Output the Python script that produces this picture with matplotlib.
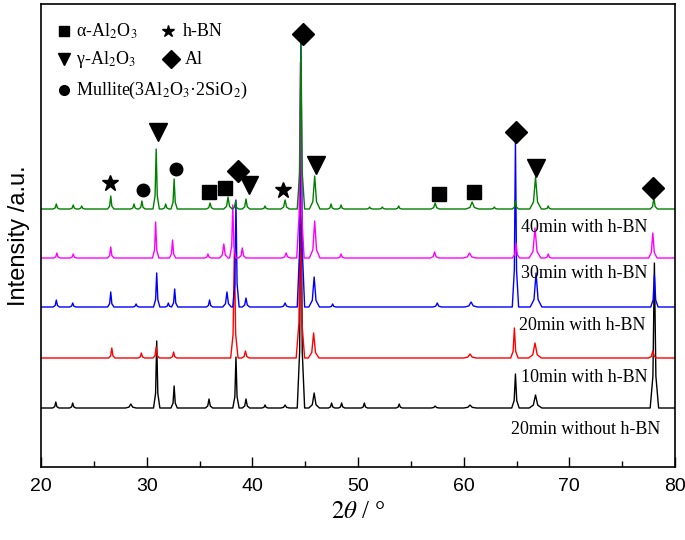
import matplotlib
matplotlib.use("Agg")
import matplotlib.pyplot as plt

# ---------------- data (2theta in degrees, intensity in a.u.) ----------------
series_names = ["20min without h-BN", "10min with h-BN", "20min with h-BN",
                "30min with h-BN", "40min with h-BN"]
series_colors = ["black", "red", "blue", "magenta", "green"]
series_offsets = [59, 109, 160, 209, 258]

# peaks: (position, height, half-base width)
black_peaks = [(21.4, 6, .3), (23.0, 5, .3), (28.5, 4, .5), (30.95, 67, .3), (32.6, 22, .3),
               (35.9, 9, .35), (38.45, 51, .3), (39.4, 9, .35), (41.2, 3, .3), (43.1, 3, .4),
               (44.6, 258, .35), (45.85, 15, .5), (47.5, 5, .3), (48.45, 5, .3), (50.6, 5, .3),
               (53.9, 4, .3), (57.3, 2, .4), (60.6, 3, .6), (64.9, 34, .35), (66.8, 13, .6),
               (78.05, 145, .4)]
red_peaks = [(26.7, 10, .3), (29.5, 5, .3), (30.9, 11, .3), (32.55, 6, .3), (38.3, 108, .35),
             (39.35, 7, .35), (44.55, 160, .4), (45.8, 25, .5), (60.6, 4, .6), (64.8, 30, .35),
             (66.75, 15, .6), (77.9, 7, .4)]
blue_peaks = [(21.45, 7, .3), (23.0, 4, .3), (26.6, 15, .3), (29.0, 3, .3), (30.95, 34, .3),
              (32.05, 4, .3), (32.65, 18, .3), (35.95, 7, .3), (37.6, 15, .4), (38.45, 107, .3),
              (39.4, 9, .35), (43.1, 4, .4), (44.6, 265, .35), (45.85, 30, .5), (47.6, 3, .3),
              (57.5, 4, .4), (60.7, 5, .6), (64.9, 167, .3), (66.85, 34, .55), (78.05, 32, .35)]
magenta_peaks = [(21.5, 5, .3), (23.05, 4, .3), (26.6, 11, .3), (30.85, 36, .3), (32.45, 18, .3),
                 (35.8, 4, .3), (37.3, 14, .4), (38.15, 53, .3), (39.05, 10, .35), (43.2, 5, .4),
                 (44.55, 196, .35), (45.9, 37, .5), (48.4, 4, .3), (57.25, 6, .4), (60.55, 5, .6),
                 (64.95, 15, .35), (66.75, 30, .55), (68.0, 4, .3), (77.9, 25, .4)]
green_peaks = [(21.45, 5, .3), (23.05, 4, .3), (23.85, 3, .3), (26.6, 13, .3), (28.8, 5, .3),
               (29.55, 8, .3), (30.9, 60, .3), (31.8, 5, .3), (32.6, 30, .3), (36.0, 6, .35),
               (37.7, 12, .4), (38.4, 7, .3), (39.4, 10, .35), (41.2, 3, .3), (43.1, 9, .4),
               (44.6, 166, .35), (45.9, 33, .5), (47.45, 5, .3), (48.4, 4, .3), (51.1, 2, .3),
               (52.3, 2, .3), (53.85, 3, .3), (57.3, 6, .4), (60.8, 7, .6), (62.9, 2, .3),
               (64.9, 8, .3), (66.8, 32, .55), (68.0, 3, .3), (78.0, 11, .35)]
all_peaks = [black_peaks, red_peaks, blue_peaks, magenta_peaks, green_peaks]

# label positions (2theta, intensity)
label_x = [64.45, 65.4, 65.2, 65.4, 65.4]
label_y = [38, 89, 141, 193, 240]

# phase markers above the 40 min pattern
mark_x = [26.56, 29.62, 31.11, 32.78, 35.94, 37.45, 38.62, 39.73, 42.94, 45.98,
          44.77, 57.62, 60.97, 66.81, 64.92, 77.92]
mark_y = [284, 277, 335, 298, 275, 279, 296, 282, 277, 302,
          433, 273, 275, 299, 335, 279]
mark_kind = ["*", "o", "v", "o", "s", "s", "D", "v", "*", "v",
             "D", "s", "s", "v", "D", "D"]

# ---------------- figure ----------------
plt.rcParams["mathtext.fontset"] = "stix"
fig = plt.figure(figsize=(6.85, 5.4), dpi=100)
ax = fig.add_axes([41 / 685, 1 - 467 / 540, (675 - 41) / 685, (467 - 4) / 540])


def build(offset, peaks):
    xs, ys = [20.0], [offset]
    for p, h, w in sorted(peaks):
        xs += [p - w, p - 0.35 * w, p, p + 0.35 * w, p + w]
        ys += [offset, offset + 0.22 * h, offset + h, offset + 0.22 * h, offset]
    xs.append(80.0)
    ys.append(offset)
    return xs, ys


for name, col, off, pk, lx, ly in zip(series_names, series_colors, series_offsets,
                                      all_peaks, label_x, label_y):
    xs, ys = build(off, pk)
    ax.plot(xs, ys, color=col, lw=1.0)
    ax.text(lx, ly, name, family="Liberation Serif", fontsize=13, ha="left", va="center")

msize = {"*": 12, "o": 9, "v": 13, "s": 10, "D": 11}
for x, y, k in zip(mark_x, mark_y, mark_kind):
    ax.plot([x], [y], marker=k, color="black", ms=msize[k], ls="none")

# legend block (top left)
serif = "Liberation Serif"
ax.plot([22.2], [436], marker="s", color="black", ms=7)
ax.text(23.3, 436, r"α-Al$_2$O$_3$", family=serif, fontsize=13, va="center")
ax.plot([32.05], [436], marker="*", color="black", ms=9)
ax.text(33.4, 436, "h-BN", family=serif, fontsize=13, va="center")
ax.plot([22.2], [408], marker="v", color="black", ms=9)
ax.text(23.3, 408, r"γ-Al$_2$O$_3$", family=serif, fontsize=13, va="center")
ax.plot([32.3], [408], marker="D", color="black", ms=9)
ax.text(33.6, 408, "Al", family=serif, fontsize=13, va="center")
ax.plot([22.2], [377], marker="o", color="black", ms=7)
ax.text(23.3, 377, r"Mullite(3Al$_2$O$_3$·2SiO$_2$)", family=serif, fontsize=13, va="center")

ax.set_xlim(20, 80)
ax.set_ylim(0, 463)
ax.set_xticks([20, 30, 40, 50, 60, 70, 80])
ax.set_xticks([25, 35, 45, 55, 65, 75], minor=True)
ax.set_yticks([])
ax.tick_params(axis="x", which="major", direction="in", length=7, width=1.0,
               labelsize=14, pad=8)
ax.tick_params(axis="x", which="minor", direction="in", length=4, width=1.0)
for lab in ax.get_xticklabels():
    lab.set_family("Liberation Sans")
for s in ax.spines.values():
    s.set_linewidth(1.2)

ax.set_xlabel(r"$2\theta$ / °", fontsize=18, family=serif, labelpad=4)
ax.set_ylabel("Intensity /a.u.", fontsize=17, family="Liberation Sans", labelpad=8)

fig.savefig("out.png", dpi=100)
